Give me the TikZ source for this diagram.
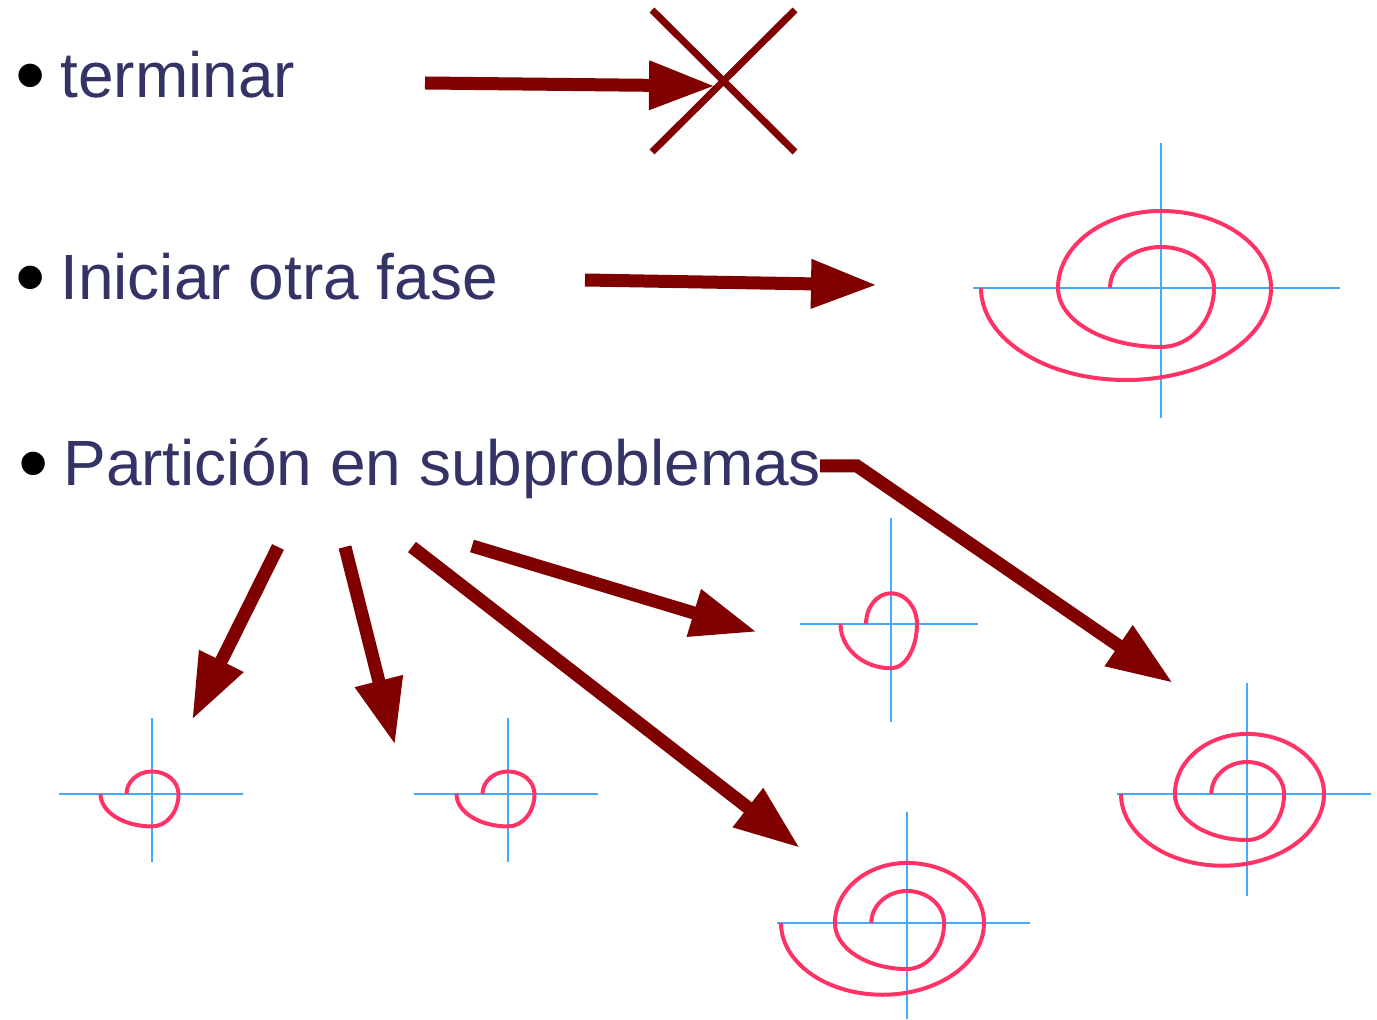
\documentclass[tikz,border=0pt]{standalone}
\usepackage{fontspec}
\setmainfont{Liberation Sans}
\usetikzlibrary{arrows.meta}

\definecolor{textoazul}{HTML}{333366}
\definecolor{granate}{HTML}{800000}
\definecolor{rosa}{HTML}{FF3366}
\definecolor{celeste}{HTML}{44AAFF}

\newcommand{\vineta}{\llap{\textcolor{black}{\raisebox{-3.5pt}{\scalebox{1.35}{•}}}\hspace{7.5pt}}}

\tikzset{
  texto/.style = {anchor=base west, inner sep=0pt, text=textoazul,
                  font=\fontsize{32pt}{38pt}\selectfont},
  flecha/.style = {granate, line width=6.5pt, -{Triangle[length=33pt,width=23pt]}},
  cruz/.style = {granate, line width=3.5pt},
  eje/.style = {celeste, line width=0.75pt},
  curva/.style = {rosa, line width=2pt},
  pics/espiral/.style = {code={
    \draw[curva] (-51,0) arc[start angle=180,end angle=270,x radius=51,y radius=41]
      arc[start angle=270,end angle=360,x radius=53,y radius=41]
      arc[start angle=0,end angle=90,x radius=53,y radius=59]
      arc[start angle=90,end angle=180,x radius=103,y radius=59]
      arc[start angle=180,end angle=270,x radius=103,y radius=77]
      arc[start angle=270,end angle=360,x radius=110,y radius=77]
      arc[start angle=0,end angle=180,x radius=145,y radius=92];
  }},
  pics/espiralchica/.style = {code={
    \draw[curva] (-51,0) arc[start angle=180,end angle=270,x radius=51,y radius=41]
      arc[start angle=270,end angle=360,x radius=53,y radius=41]
      arc[start angle=0,end angle=90,x radius=53,y radius=59]
      arc[start angle=90,end angle=180,x radius=103,y radius=59];
  }}
}

\begin{document}
\begin{tikzpicture}[x=0.5pt, y=-0.5pt]
    \useasboundingbox (0,0) rectangle (1377,1020);

    % textos
    \node[texto] (term) at (60,98)  {\vineta terminar};
    \node[texto] (inic) at (60,300) {\vineta Iniciar otra fase};
    \node[texto] (part) at (63,486) {\vineta Partición en subproblemas};

    % terminar
    \coordinate (t0) at (425,83);
    \coordinate (t1) at (715,86);
    \draw[flecha] (t0) -- (t1);
    \draw[cruz] (652,10) -- (795,152) (652,152) -- (795,10);

    % otra fase
    \coordinate (f0) at (585,280);
    \coordinate (f1) at (877,285);
    \draw[flecha] (f0) -- (f1);
    \draw[eje] (973,288) -- (1340,288) (1161,143) -- (1161,418);
    \pic at (1161,288) {espiral};

    % subproblemas
    \coordinate (p0) at (820,466);
    \coordinate (p1) at (857,466);
    \coordinate (p2) at (1173,683);
    \draw[flecha] (p0) -- (p1) -- (p2);
    \coordinate (a0) at (278,547);
    \coordinate (a1) at (192,720);
    \draw[flecha] (a0) -- (a1);
    \coordinate (b0) at (345,547);
    \coordinate (b1) at (395,745);
    \draw[flecha] (b0) -- (b1);
    \coordinate (c0) at (412,547);
    \coordinate (c1) at (800,848);
    \draw[flecha] (c0) -- (c1);
    \coordinate (d0) at (472,546);
    \coordinate (d1) at (757,632);
    \draw[flecha] (d0) -- (d1);

    \draw[eje] (59,794) -- (243,794) (152,718) -- (152,862);
    \pic[xscale=0.5, yscale=0.55] at (152,794) {espiralchica};
    \draw[eje] (414,794) -- (598,794) (508,718) -- (508,862);
    \pic[xscale=0.5, yscale=0.55] at (508,794) {espiralchica};
    \draw[eje] (800,624) -- (978,624) (891,518) -- (891,722);
    \pic[xscale=0.49, yscale=0.75] at (891,624) {espiralchica};
    \draw[eje] (777,923) -- (1030,923) (907,812) -- (907,1019);
    \pic[xscale=0.7, yscale=0.78] at (907,923) {espiral};
    \draw[eje] (1117,794) -- (1371,794) (1247,683) -- (1247,896);
    \pic[xscale=0.7, yscale=0.78] at (1247,794) {espiral};
\end{tikzpicture}
\end{document}
